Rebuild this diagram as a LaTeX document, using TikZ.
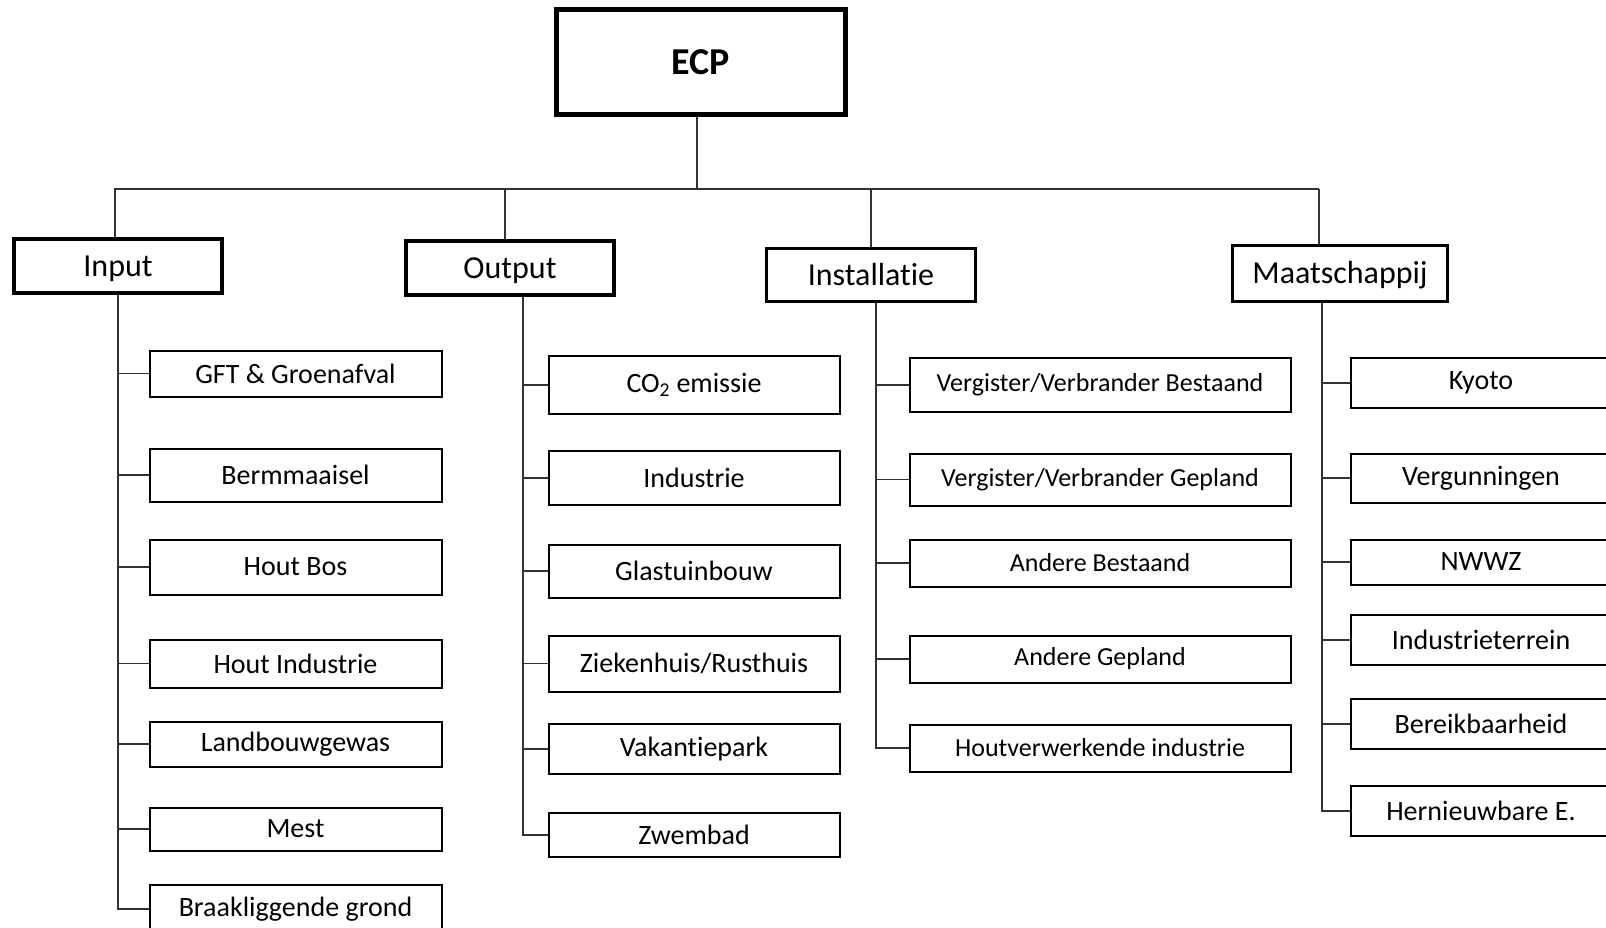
\documentclass[tikz,border=0pt]{standalone}
\usepackage{fontspec}
\setmainfont{Carlito}[Ligatures=NoCommon]
\usepackage{tikz}

\tikzset{
  ecpbox/.style={draw, line width=5pt, inner sep=0pt, minimum width=289pt, minimum height=105pt,
    font=\fontsize{38}{42}\selectfont\bfseries},
  catbox/.style={draw, line width=3.5pt, inner sep=0pt, minimum height=54pt,
    text height=22pt, text depth=2pt, font=\fontsize{32}{36}\selectfont},
  leafbox/.style={draw, line width=2pt, inner sep=0pt, font=\fontsize{28}{32}\selectfont},
  inbox/.style={leafbox, minimum width=292pt},
  outbox/.style={leafbox, minimum width=291pt},
  instbox/.style={leafbox, minimum width=381pt, font=\fontsize{26}{30}\selectfont},
  maatbox/.style={leafbox, minimum width=260pt},
  conn/.style={line width=1.6pt, black!80},
}

\begin{document}
\begin{tikzpicture}[x=1pt, y=-1pt]
  \useasboundingbox (0,0) rectangle (1606,928);
  \clip (0,0) rectangle (1606,928);

  \node[ecpbox] (ecp) at (701,62) {ECP};

  \node[catbox, minimum width=208pt] (input) at (118,266) {Input};
  \node[catbox, minimum width=208pt] (output) at (510,268) {Output};
  \node[catbox, minimum width=209pt, minimum height=53pt] (inst) at (871,275) {Installatie};
  \node[catbox, minimum width=215pt, minimum height=56pt] (maat) at (1340,273.5) {Maatschappij};

  % input
  \node[inbox, minimum height=46pt] (gft) at (295.5,373.5) {GFT \& Groenafval};
  \node[inbox, minimum height=53pt] (berm) at (295.5,475) {Bermmaaisel};
  \node[inbox, minimum height=55pt] (houtbos) at (295.5,567) {Hout Bos};
  \node[inbox, minimum height=48pt] (houtind) at (295.5,663.5) {Hout Industrie};
  \node[inbox, minimum height=45pt] (landb) at (295.5,744) {Landbouwgewas};
  \node[inbox, minimum height=43pt] (mest) at (295.5,829) {Mest};
  \node[inbox, minimum height=48pt] (braak) at (295.5,909) {Braakliggende grond};

  % output
  \node[outbox, minimum height=58pt] (co2) at (694,385) {CO\textsubscript{2} emissie};
  \node[outbox, minimum height=54pt] (industrie) at (694,478) {Industrie};
  \node[outbox, minimum height=53pt] (glas) at (694,571) {Glastuinbouw};
  \node[outbox, minimum height=56pt] (zieken) at (694,663.5) {Ziekenhuis/Rusthuis};
  \node[outbox, minimum height=50pt] (vakantie) at (694,749) {Vakantiepark};
  \node[outbox, minimum height=44pt] (zwembad) at (694,835) {Zwembad};

  % installatie
  \node[instbox, minimum height=54pt] (vvb) at (1100,385) {Vergister/Verbrander Bestaand};
  \node[instbox, minimum height=52pt] (vvg) at (1100,479.5) {Vergister/Verbrander Gepland};
  \node[instbox, minimum height=47pt] (andb) at (1100,563) {Andere Bestaand};
  \node[instbox, minimum height=47pt] (andg) at (1100,659) {Andere Gepland};
  \node[instbox, minimum height=47pt] (houtverw) at (1100,748) {Houtverwerkende industrie};

  % maatschappij
  \node[maatbox, minimum height=50pt] (kyoto) at (1481,383) {Kyoto};
  \node[maatbox, minimum height=49pt] (vergun) at (1481,478) {Vergunningen};
  \node[maatbox, minimum height=45pt] (nwwz) at (1481,562) {NWWZ};
  \node[maatbox, minimum height=50pt] (indterr) at (1481,640) {Industrieterrein};
  \node[maatbox, minimum height=50pt] (bereik) at (1481,724) {Bereikbaarheid};
  \node[maatbox, minimum height=50pt] (hernieuw) at (1481,811) {Hernieuwbare E.};

  \coordinate (busL) at (114,189);
  \coordinate (busR) at (1319,189);

  \draw[conn] ([xshift=-4pt]ecp.south) -- ([xshift=-4pt]ecp.south |- busL);
  \draw[conn] (busL) -- (busR);
  \draw[conn] ([xshift=-3pt]input.north) -- ([xshift=-3pt]input.north |- busL);
  \draw[conn] ([xshift=-5pt]output.north) -- ([xshift=-5pt]output.north |- busL);
  \draw[conn] (inst.north) -- (inst.north |- busL);
  \draw[conn] ([xshift=-21pt]maat.north) -- ([xshift=-21pt]maat.north |- busL);

  \foreach \c in {gft,berm,houtbos,houtind,landb,mest,braak}
    \draw[conn] (input.south) |- (\c.west);
  \foreach \c in {co2,industrie,glas,zieken,vakantie,zwembad}
    \draw[conn] ([xshift=13pt]output.south) |- (\c.west);
  \foreach \c in {vvb,vvg,andb,andg,houtverw}
    \draw[conn] ([xshift=5pt]inst.south) |- (\c.west);
  \foreach \c in {kyoto,vergun,nwwz,indterr,bereik,hernieuw}
    \draw[conn] ([xshift=-18pt]maat.south) |- (\c.west);
\end{tikzpicture}
\end{document}
